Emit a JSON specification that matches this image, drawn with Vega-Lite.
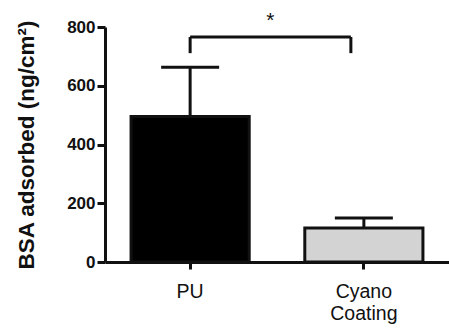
{
  "$schema": "https://vega.github.io/schema/vega-lite/v6.json",
  "width": 344,
  "height": 235,
  "autosize": {"type": "none"},
  "padding": {"left": 105, "top": 27, "right": 0, "bottom": 69},
  "background": "white",
  "config": {
    "view": {"stroke": null},
    "font": "Liberation Sans"
  },
  "datasets": {
    "bars": [
      {"group": "PU", "mean": 495, "upper": 663, "fill": "PU"},
      {"group": "Cyano Coating", "mean": 116, "upper": 150, "fill": "Cyano Coating"}
    ],
    "sig": [
      {"from": "PU", "to": "Cyano Coating", "top": 766, "bottom": 711, "star": 800, "label": "*"}
    ]
  },
  "encoding": {
    "x": {
      "field": "group",
      "type": "nominal",
      "sort": ["PU", "Cyano Coating"],
      "scale": {"domain": ["PU", "Cyano Coating"], "paddingInner": 0.32, "paddingOuter": 0.15},
      "axis": {
        "title": null,
        "labelAngle": 0,
        "labelFontSize": 19.5,
        "labelColor": "#111",
        "labelPadding": 13,
        "labelExpr": "split(datum.label, ' ')",
        "labelLineHeight": 22,
        "tickSize": 7,
        "tickWidth": 3,
        "tickColor": "#111",
        "domainWidth": 3,
        "domainColor": "#111"
      }
    }
  },
  "layer": [
    {
      "data": {"name": "bars"},
      "mark": {"type": "rule", "strokeWidth": 3, "color": "#111"},
      "encoding": {
        "y": {"field": "mean", "type": "quantitative"},
        "y2": {"field": "upper"}
      }
    },
    {
      "data": {"name": "bars"},
      "mark": {"type": "tick", "orient": "horizontal", "size": 58, "thickness": 3, "color": "#111", "opacity": 1},
      "encoding": {
        "y": {"field": "upper", "type": "quantitative"}
      }
    },
    {
      "data": {"name": "bars"},
      "mark": {"type": "bar", "stroke": "#111", "strokeWidth": 3},
      "encoding": {
        "y": {
          "field": "mean",
          "type": "quantitative",
          "scale": {"domain": [0, 800], "nice": false},
          "axis": {
            "title": "BSA adsorbed (ng/cm²)",
            "titleFontSize": 22.5,
            "titleFontWeight": "bold",
            "titleColor": "#111",
            "titlePadding": 28,
            "values": [0, 200, 400, 600, 800],
            "labelFontSize": 17,
            "labelFontWeight": "bold",
            "labelColor": "#111",
            "labelPadding": 2,
            "tickSize": 8,
            "tickWidth": 3,
            "tickColor": "#111",
            "domainWidth": 3,
            "domainColor": "#111",
            "grid": false
          }
        },
        "fill": {
          "field": "fill",
          "type": "nominal",
          "scale": {"domain": ["PU", "Cyano Coating"], "range": ["#000000", "#d3d3d3"]},
          "legend": null
        }
      }
    },
    {
      "data": {"name": "sig"},
      "mark": {"type": "rule", "strokeWidth": 3, "color": "#111"},
      "encoding": {
        "x": {"field": "from", "type": "nominal", "bandPosition": 0.5},
        "x2": {"field": "to", "bandPosition": 0.39},
        "y": {"field": "top", "type": "quantitative"}
      }
    },
    {
      "data": {"name": "sig"},
      "mark": {"type": "rule", "strokeWidth": 3, "color": "#111"},
      "encoding": {
        "x": {"field": "from", "type": "nominal", "bandPosition": 0.5},
        "y": {"field": "bottom", "type": "quantitative"},
        "y2": {"field": "top"}
      }
    },
    {
      "data": {"name": "sig"},
      "mark": {"type": "rule", "strokeWidth": 3, "color": "#111"},
      "encoding": {
        "x": {"field": "to", "type": "nominal", "bandPosition": 0.39},
        "y": {"field": "bottom", "type": "quantitative"},
        "y2": {"field": "top"}
      }
    },
    {
      "data": {"name": "sig"},
      "mark": {"type": "text", "fontSize": 21, "color": "#111", "baseline": "alphabetic"},
      "encoding": {
        "x": {"field": "from", "type": "nominal", "bandPosition": 1.18},
        "y": {"field": "star", "type": "quantitative"},
        "text": {"field": "label"}
      }
    }
  ]
}
